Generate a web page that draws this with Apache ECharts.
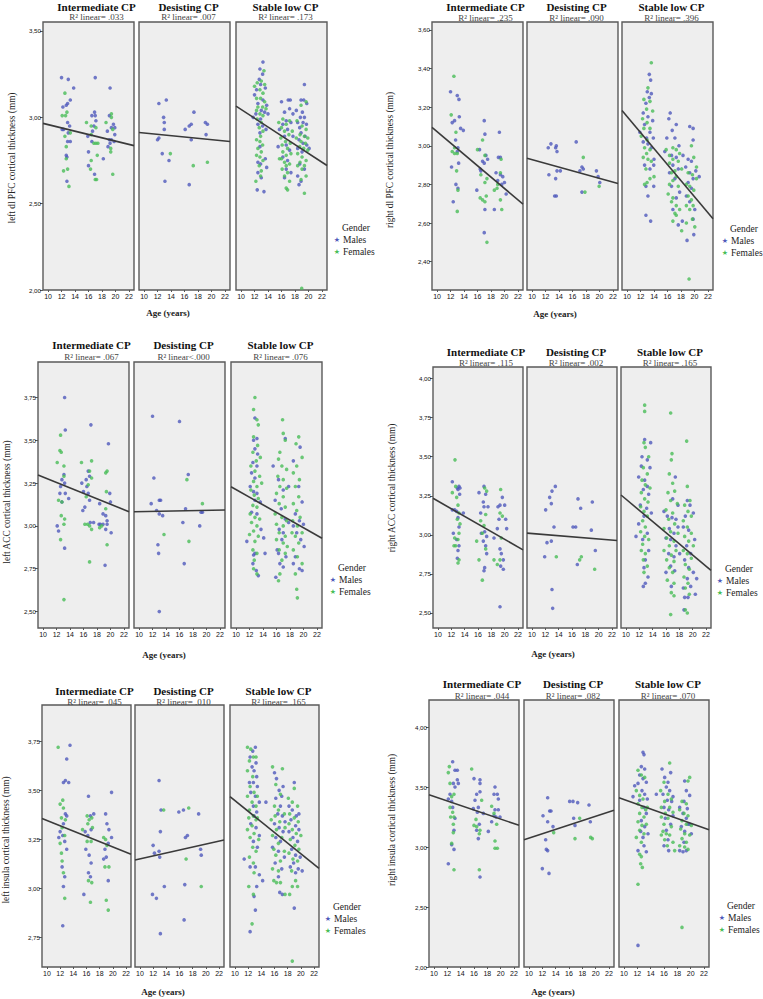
<!DOCTYPE html>
<html>
<head>
<meta charset="utf-8">
<script src="https://cdn.jsdelivr.net/npm/echarts@6/dist/echarts.min.js"></script>
<style>
  html, body { margin: 0; padding: 0; background: #fff; }
  #chart { width: 763px; height: 999px; }
</style>
</head>
<body>
<div id="chart"></div>
<script>
  // ---- shared labels / ticks ----
  const groupNames = ['Intermediate CP', 'Desisting CP', 'Stable low CP'];
  const ageTicks = [10, 12, 14, 16, 18, 20, 22];
  const ageRange = [9.25, 22.75];

  const yTitles = [
    'left dl PFC cortical thickness (mm)',
    'right dl PFC cortical thickness (mm)',
    'left ACC cortical thickness (mm)',
    'right ACC cortical thickness (mm)',
    'left insula cortical thickness (mm)',
    'right insula cortical thickness (mm)'
  ];
  const yTicks = [
    [2.0, 2.5, 3.0, 3.5],
    [2.4, 2.6, 2.8, 3.0, 3.2, 3.4, 3.6],
    [2.5, 2.75, 3.0, 3.25, 3.5, 3.75],
    [2.5, 2.75, 3.0, 3.25, 3.5, 3.75, 4.0],
    [2.75, 3.0, 3.25, 3.5, 3.75],
    [2.0, 2.5, 3.0, 3.5, 4.0]
  ];
  const r2Labels = [
    ['.033', '.007', '.173'],
    ['.235', '.090', '.396'],
    ['.067', '<.000', '.076'],
    ['.115', '.002', '.165'],
    ['.045', '.010', '.165'],
    ['.044', '.082', '.070']
  ];

  // fitted line values at left / right edge of each group panel
  const lPfcFit = [[2.965, 2.836], [2.912, 2.860], [3.065, 2.721]];
  const rPfcFit = [[3.095, 2.698], [2.935, 2.805], [3.183, 2.622]];
  const lAccFit = [[3.297, 3.083], [3.083, 3.093], [3.229, 2.928]];
  const rAccFit = [[3.234, 2.904], [3.011, 2.964], [3.255, 2.772]];
  const lInsFit = [[3.357, 3.175], [3.145, 3.247], [3.468, 3.102]];
  const rInsFit = [[3.436, 3.181], [3.061, 3.306], [3.411, 3.144]];

  // ---- left dl PFC ----
  const lPfcIntM = [[12.0,3.23],[13.0,3.22],[13.8,3.17],[12.2,3.06],[13.3,3.10],[12.9,3.08],[12.7,3.07],[12.9,2.97],[13.2,2.95],[12.1,2.93],[13.0,2.91],[12.3,2.93],[12.9,2.86],[13.3,2.86],[12.7,2.78],[12.8,2.77],[12.8,2.63],[17.0,3.23],[16.9,3.03],[16.5,3.01],[17.0,3.01],[16.8,2.95],[15.9,2.89],[16.5,2.86],[16.0,2.80],[16.0,2.72],[16.9,2.67],[17.1,2.98],[16.6,2.92],[19.2,3.17],[19.1,3.01],[19.7,2.96],[19.4,2.94],[18.8,2.92],[19.9,2.90],[19.1,2.87],[19.4,2.87],[19.8,2.86],[19.2,2.85],[18.9,2.83],[18.2,2.76],[19.9,2.94]];
  const lPfcIntF = [[12.5,3.14],[12.1,3.01],[12.6,3.01],[12.8,3.03],[12.5,2.89],[12.7,2.83],[13.3,2.91],[12.7,2.76],[12.9,2.70],[12.3,2.69],[13.1,2.60],[15.7,2.97],[16.4,2.95],[17.1,2.94],[16.4,2.90],[16.8,2.85],[17.1,2.85],[17.4,2.85],[17.3,2.78],[16.4,2.75],[16.3,2.70],[17.0,2.64],[17.2,2.64],[19.4,3.02],[19.4,3.00],[18.6,2.97],[19.6,2.93],[19.3,2.82],[19.3,2.80],[19.6,2.67]];
  const lPfcDesM = [[12.2,3.08],[13.3,3.10],[12.9,3.00],[13.0,2.97],[13.0,2.93],[12.2,2.88],[12.0,2.87],[12.7,2.79],[13.7,2.75],[13.1,2.63],[17.4,3.03],[16.7,2.95],[17.0,2.96],[16.1,2.93],[17.0,2.87],[16.7,2.61],[19.1,2.97],[19.4,2.96],[19.2,2.90]];
  const lPfcDesF = [[13.9,2.79],[17.3,2.72],[19.4,2.74]];
  const lPfcStabM = [[13.25,3.32],[12.8,3.28],[13.2,3.25],[12.7,3.22],[12.9,3.19],[12.3,3.16],[13.6,3.17],[12.0,3.13],[13.25,3.10],[12.5,3.08],[13.8,3.07],[13.0,3.04],[12.2,3.02],[11.8,3.00],[13.5,3.03],[14.0,3.02],[12.9,2.99],[12.5,2.96],[13.7,2.93],[12.8,2.91],[13.2,2.95],[13.6,2.76],[12.9,2.73],[12.5,2.74],[13.8,2.71],[12.5,2.68],[13.0,2.65],[12.4,2.58],[13.4,2.57],[12.8,2.83],[16.0,3.09],[17.0,3.10],[17.3,3.10],[15.7,2.93],[16.45,3.03],[17.2,3.05],[17.7,3.02],[16.7,2.98],[16.2,2.96],[17.4,2.97],[16.9,2.93],[16.45,2.89],[17.7,2.89],[16.7,2.84],[15.5,2.83],[17.2,2.81],[16.2,2.77],[16.9,2.75],[16.7,2.70],[17.4,2.68],[16.45,2.65],[19.4,3.19],[18.9,3.10],[19.3,3.10],[19.75,3.08],[18.2,3.04],[19.1,3.03],[18.8,3.00],[19.4,3.00],[18.4,2.97],[19.2,2.97],[19.7,2.96],[18.7,2.94],[18.9,2.91],[19.5,2.89],[18.6,2.87],[19.2,2.85],[19.75,2.84],[18.4,2.82],[19.05,2.80],[20.1,2.82],[18.7,2.73],[19.4,2.70],[18.4,2.66],[18.9,2.63],[18.6,2.61]];
  const lPfcStabF = [[13.4,3.27],[13.0,3.21],[12.4,3.20],[13.5,3.19],[12.0,3.18],[12.8,3.16],[13.25,3.14],[12.3,3.11],[12.9,3.11],[13.5,3.09],[12.5,3.06],[13.2,3.06],[13.7,3.05],[12.3,3.04],[12.8,3.02],[13.25,3.01],[12.4,2.99],[13.0,2.97],[12.7,2.94],[13.25,2.92],[12.9,2.89],[12.3,2.87],[12.8,2.86],[13.2,2.84],[12.5,2.82],[13.0,2.80],[12.3,2.78],[12.8,2.77],[13.25,2.75],[12.7,2.72],[13.0,2.69],[12.9,2.66],[12.2,2.63],[15.6,2.97],[16.2,2.99],[16.7,2.96],[17.2,2.98],[16.0,2.94],[16.45,2.92],[17.1,2.90],[15.9,2.88],[16.6,2.86],[17.3,2.85],[16.1,2.84],[16.9,2.82],[16.2,2.80],[16.7,2.78],[17.4,2.79],[16.0,2.76],[16.45,2.74],[17.2,2.73],[16.7,2.72],[16.1,2.70],[16.9,2.68],[16.45,2.66],[17.2,2.63],[16.7,2.59],[16.9,2.58],[15.7,2.76],[17.6,2.92],[19.65,3.09],[18.9,3.07],[18.3,2.98],[19.05,2.95],[19.65,2.93],[18.75,2.90],[19.4,2.89],[19.9,2.88],[18.2,2.88],[18.9,2.86],[19.55,2.85],[18.7,2.83],[19.3,2.82],[19.9,2.81],[18.4,2.79],[19.05,2.77],[19.65,2.75],[18.75,2.74],[19.4,2.72],[18.4,2.72],[19.05,2.70],[19.65,2.66],[18.9,2.64],[19.4,2.56],[19.0,2.01]];

  // ---- right dl PFC ----
  const rPfcIntM = [[12.0,3.28],[13.0,3.26],[13.25,3.24],[12.6,3.13],[12.25,3.12],[13.3,3.15],[13.5,3.09],[13.9,3.08],[12.75,3.03],[13.1,2.99],[13.0,2.97],[13.2,2.91],[12.15,2.89],[12.8,2.80],[13.1,2.78],[12.4,2.71],[17.0,3.13],[17.1,3.06],[16.3,2.98],[17.25,2.95],[17.5,2.93],[16.75,2.92],[17.0,2.91],[16.4,2.88],[16.5,2.87],[15.9,2.77],[17.1,2.67],[17.0,2.55],[18.5,2.67],[19.25,3.07],[19.1,2.94],[19.4,2.94],[19.75,2.84],[19.4,2.85],[19.0,2.82],[20.0,2.81],[19.6,2.80],[18.75,2.86],[20.25,2.75]];
  const rPfcIntF = [[12.1,3.16],[12.5,3.36],[12.25,2.97],[12.6,2.96],[12.8,3.07],[13.0,2.96],[12.9,2.87],[13.1,2.77],[13.0,2.66],[12.6,2.99],[16.0,2.98],[16.5,2.85],[16.75,3.03],[17.1,2.95],[16.4,2.73],[16.75,2.72],[17.1,2.71],[17.4,2.83],[17.1,2.81],[17.4,2.50],[17.3,2.74],[18.5,2.77],[18.9,2.78],[19.5,2.93],[19.4,2.86],[19.4,2.72],[19.6,2.67],[19.0,2.80]];
  const rPfcDesM = [[12.8,3.01],[12.4,2.99],[13.6,3.00],[13.5,2.99],[13.7,2.97],[12.5,2.85],[13.5,2.83],[13.7,2.87],[14.2,2.87],[13.35,2.74],[13.6,2.74],[16.55,3.02],[17.4,2.89],[17.1,2.87],[17.6,2.88],[19.55,2.87],[19.8,2.84],[20.05,2.81],[17.4,2.76]];
  const rPfcDesF = [[17.6,2.94],[17.85,2.76],[19.95,2.79]];
  const rPfcStabM = [[13.3,3.37],[13.5,3.34],[13.0,3.28],[13.3,3.25],[13.6,3.27],[12.8,3.22],[12.4,3.17],[13.1,3.15],[13.8,3.13],[12.6,3.11],[11.9,3.07],[13.4,3.07],[12.9,3.04],[13.9,3.04],[12.4,3.02],[13.1,3.01],[13.6,2.99],[14.0,2.93],[12.6,2.90],[13.4,2.88],[13.96,2.90],[12.8,2.79],[13.96,2.79],[13.1,2.74],[12.8,2.64],[13.5,2.61],[16.4,3.17],[16.2,3.14],[17.3,3.11],[16.7,3.08],[15.9,3.04],[17.1,3.04],[17.7,3.00],[15.6,2.97],[16.6,2.95],[17.3,2.94],[18.3,2.95],[16.8,2.90],[17.6,2.88],[16.3,2.86],[17.1,2.83],[16.6,2.79],[17.8,2.76],[17.3,2.73],[16.8,2.67],[17.6,2.59],[18.2,2.61],[19.3,3.10],[19.8,3.09],[19.8,3.03],[19.06,2.93],[19.55,2.92],[18.7,2.89],[20.2,2.87],[20.7,2.84],[19.3,2.86],[19.8,2.83],[19.06,2.81],[19.55,2.78],[18.8,2.74],[19.3,2.71],[20.05,2.67],[19.8,2.62],[18.9,2.51],[19.9,2.54]];
  const rPfcStabF = [[13.6,3.43],[13.1,3.30],[12.5,3.24],[13.4,3.23],[13.8,3.18],[12.9,3.19],[12.3,3.14],[12.97,3.12],[12.5,3.09],[13.4,3.09],[12.1,3.05],[12.97,3.03],[12.6,2.99],[13.4,2.98],[12.9,2.96],[12.4,2.94],[13.1,2.93],[13.6,2.92],[12.8,2.88],[14.0,2.84],[12.97,2.81],[12.6,2.80],[13.4,2.83],[15.8,2.98],[16.8,2.99],[17.3,2.98],[16.3,2.95],[17.8,2.96],[16.8,2.93],[17.6,2.92],[16.3,2.91],[17.1,2.87],[16.6,2.86],[18.1,2.88],[17.3,2.84],[16.8,2.82],[16.3,2.80],[17.6,2.79],[16.1,2.75],[16.8,2.73],[17.3,2.69],[16.6,2.71],[17.1,2.65],[17.8,2.67],[16.8,2.61],[18.1,2.56],[17.3,2.64],[19.55,3.00],[19.9,2.94],[20.3,2.89],[19.06,2.86],[19.7,2.85],[20.3,2.83],[18.8,2.80],[19.3,2.79],[19.9,2.77],[19.06,2.74],[19.55,2.72],[18.8,2.69],[19.8,2.69],[19.3,2.67],[19.7,2.62],[18.8,2.60],[20.05,2.58],[19.2,2.31]];

  // ---- left ACC ----
  const lAccIntM = [[13.2,3.75],[13.3,3.56],[17.1,3.59],[19.7,3.48],[13.1,3.30],[12.8,3.27],[13.2,3.25],[12.6,3.23],[13.3,3.19],[13.8,3.16],[12.5,3.19],[12.8,3.14],[15.75,3.25],[16.4,3.27],[16.7,3.32],[16.9,3.29],[16.5,3.23],[16.0,3.20],[16.7,3.19],[16.9,3.15],[16.2,3.11],[15.9,3.09],[17.0,3.02],[17.5,3.02],[12.1,3.00],[12.3,2.97],[13.2,2.87],[18.4,3.13],[18.9,3.07],[19.3,3.06],[19.5,3.03],[19.9,3.19],[20.0,3.14],[18.5,3.01],[18.9,3.01],[19.3,2.98],[19.5,3.01],[20.1,2.96],[19.2,2.77],[18.3,3.01]];
  const lAccIntF = [[12.6,3.53],[12.5,3.44],[12.7,3.43],[12.1,3.37],[13.1,3.35],[13.1,3.29],[12.3,3.15],[12.8,3.14],[12.7,3.06],[13.2,3.04],[13.1,3.01],[12.6,2.92],[13.1,2.57],[15.7,3.37],[17.2,3.38],[16.9,3.32],[17.2,3.28],[16.7,3.24],[16.4,3.17],[16.2,3.01],[16.6,3.01],[16.9,3.00],[17.2,2.98],[16.9,2.79],[18.7,3.00],[19.3,3.31],[19.5,3.32],[19.4,3.20],[19.3,3.10],[19.5,2.89],[18.4,2.99]];
  const lAccDesM = [[12.0,3.64],[12.2,3.28],[11.8,3.13],[13.0,3.15],[13.2,3.15],[12.6,3.09],[13.0,3.07],[13.5,3.06],[12.8,2.89],[12.9,2.84],[13.0,2.50],[16.0,3.61],[16.5,3.02],[16.9,3.10],[16.7,2.78],[17.3,3.30],[19.0,3.00],[19.2,3.08],[19.4,3.08]];
  const lAccDesF = [[13.7,2.95],[17.1,3.27],[17.4,2.91],[19.4,3.13]];
  const lAccStabM = [[12.8,3.63],[12.6,3.50],[13.1,3.51],[12.8,3.45],[13.2,3.42],[12.5,3.37],[13.1,3.35],[12.3,3.31],[12.8,3.28],[12.1,3.23],[12.6,3.20],[13.1,3.19],[13.6,3.14],[12.8,3.15],[12.3,3.08],[13.1,3.07],[11.6,2.91],[13.7,2.98],[14.1,2.93],[12.8,2.84],[12.5,2.78],[13.0,2.74],[13.3,2.71],[12.6,2.83],[14.3,2.84],[15.5,3.35],[17.3,3.51],[17.8,3.23],[16.3,3.27],[17.0,3.21],[15.8,3.15],[16.7,3.10],[17.3,3.04],[17.8,3.02],[16.4,2.98],[17.0,2.96],[16.8,2.92],[16.1,2.86],[17.4,2.82],[16.5,2.78],[15.9,2.70],[17.0,2.76],[16.3,2.84],[19.5,3.46],[18.5,3.38],[19.3,3.23],[19.8,3.14],[18.8,3.07],[19.4,3.03],[20.0,3.01],[18.5,3.00],[19.0,2.96],[19.6,2.92],[20.1,2.88],[18.8,2.82],[19.4,2.75],[18.5,2.78],[19.8,2.74]];
  const lAccStabF = [[12.8,3.75],[12.6,3.68],[13.1,3.62],[13.3,3.59],[12.6,3.52],[13.2,3.47],[12.5,3.43],[13.0,3.38],[13.6,3.40],[12.2,3.35],[12.8,3.32],[13.5,3.29],[12.6,3.26],[13.1,3.23],[13.8,3.25],[12.2,3.21],[12.7,3.18],[13.3,3.16],[12.5,3.12],[13.1,3.11],[12.1,3.07],[12.8,3.05],[13.5,3.04],[12.3,3.02],[13.1,3.00],[12.6,2.97],[12.0,2.95],[13.3,2.94],[12.8,2.91],[12.5,2.86],[13.1,2.84],[12.7,2.80],[12.6,2.75],[13.1,2.72],[16.9,3.62],[17.0,3.54],[17.3,3.50],[16.5,3.43],[16.3,3.39],[16.8,3.35],[17.5,3.33],[16.2,3.29],[17.0,3.27],[16.5,3.23],[17.5,3.22],[16.0,3.19],[17.0,3.17],[16.4,3.13],[17.3,3.11],[15.8,3.07],[16.8,3.05],[17.5,3.03],[16.0,3.01],[17.0,3.00],[16.4,2.96],[17.3,2.94],[16.0,2.92],[17.0,2.90],[17.6,2.88],[16.4,2.86],[17.3,2.84],[16.8,2.80],[16.5,2.72],[16.3,2.68],[19.3,3.52],[18.9,3.48],[19.8,3.40],[19.0,3.35],[18.5,3.31],[19.4,3.27],[18.8,3.23],[19.3,3.17],[18.5,3.13],[19.0,3.09],[19.5,3.05],[18.4,3.03],[19.1,3.00],[19.8,2.96],[18.8,2.94],[19.3,2.90],[18.5,2.86],[19.1,2.82],[19.8,2.78],[18.8,2.72],[19.0,2.63],[19.1,2.58],[18.3,2.96]];

  // ---- right ACC ----
  const rAccIntM = [[12.15,3.34],[12.9,3.30],[13.0,3.29],[13.15,3.31],[13.3,3.30],[13.25,3.26],[12.15,3.16],[12.5,3.16],[12.8,3.15],[13.0,3.11],[13.15,3.05],[13.8,3.14],[12.3,3.01],[12.8,2.97],[13.0,2.90],[13.15,2.93],[12.9,2.85],[16.15,3.27],[16.9,3.31],[17.15,3.26],[16.8,3.21],[16.4,3.14],[16.9,3.18],[17.5,3.18],[16.5,3.01],[17.0,3.02],[17.3,2.99],[16.8,2.96],[17.15,2.93],[17.3,2.88],[17.0,2.79],[16.9,2.77],[18.4,2.98],[19.0,3.18],[19.3,3.19],[19.65,3.24],[20.0,3.19],[19.15,3.10],[18.9,3.04],[20.15,3.10],[19.3,2.91],[19.5,2.88],[19.8,2.84],[19.4,2.80],[19.8,2.78],[19.3,2.54],[20.3,3.04]];
  const rAccIntF = [[12.55,3.48],[12.15,3.27],[12.65,3.31],[12.8,3.24],[13.0,3.19],[13.15,3.14],[12.9,3.10],[13.3,3.07],[13.15,3.01],[12.5,2.98],[13.0,2.97],[12.4,2.93],[12.65,2.93],[13.15,2.84],[13.0,2.82],[15.8,2.96],[16.15,2.84],[17.0,3.30],[17.3,3.28],[16.4,3.09],[16.9,3.06],[17.15,3.13],[16.65,3.01],[17.15,2.91],[16.65,2.71],[18.4,2.84],[19.4,3.29],[19.3,3.14],[19.65,3.12],[19.5,2.98],[19.3,2.84],[18.9,2.81]];
  const rAccDesM = [[12.05,3.16],[12.65,3.24],[13.0,3.28],[13.5,3.31],[12.9,3.20],[13.3,3.05],[12.25,2.95],[12.9,2.96],[11.9,2.86],[13.0,2.65],[13.1,2.53],[16.15,3.05],[16.55,3.05],[16.9,3.23],[17.3,3.17],[16.8,2.81],[19.05,3.21],[18.9,3.03],[19.5,2.90]];
  const rAccDesF = [[13.65,2.86],[17.15,2.84],[17.4,2.86],[19.4,2.78]];
  const rAccStabM = [[12.8,3.61],[13.7,3.59],[12.4,3.50],[13.2,3.48],[13.6,3.43],[12.3,3.44],[11.9,3.37],[12.8,3.35],[13.2,3.31],[12.6,3.29],[13.4,3.26],[12.15,3.19],[13.1,3.17],[13.8,3.14],[12.7,3.12],[11.9,3.07],[11.5,2.99],[13.2,3.01],[12.5,2.97],[13.4,2.90],[12.9,2.84],[12.7,2.79],[13.3,2.73],[12.9,2.69],[12.6,2.67],[17.4,3.37],[16.2,3.12],[15.7,3.15],[16.9,3.11],[17.5,3.10],[16.5,3.04],[17.2,3.01],[17.8,3.05],[16.0,2.98],[16.7,2.97],[17.5,2.93],[16.4,2.88],[17.2,2.86],[18.05,2.88],[16.7,2.80],[16.0,2.76],[17.3,2.77],[16.8,2.67],[17.8,3.19],[17.0,3.23],[18.6,2.66],[19.2,3.22],[19.6,3.19],[18.9,3.12],[20.1,3.14],[18.6,3.05],[19.4,3.03],[20.3,2.97],[19.1,2.93],[19.7,2.88],[18.8,2.84],[19.4,2.79],[20.1,2.76],[19.2,2.72],[19.7,2.67],[18.8,2.60],[19.3,2.60],[20.4,2.62],[18.7,2.52],[20.6,2.72]];
  const rAccStabF = [[12.8,3.83],[12.8,3.79],[12.7,3.59],[12.9,3.56],[13.4,3.50],[12.6,3.43],[13.2,3.39],[12.4,3.35],[12.9,3.32],[13.6,3.30],[12.3,3.27],[12.8,3.23],[13.3,3.21],[12.2,3.18],[12.7,3.15],[13.2,3.12],[12.5,3.09],[12.9,3.05],[12.2,3.02],[12.8,2.99],[13.4,2.97],[12.5,2.94],[12.9,2.88],[12.6,2.84],[13.2,2.80],[12.7,2.76],[12.3,2.90],[16.8,3.48],[16.5,3.39],[16.9,3.52],[16.7,3.78],[17.0,3.33],[16.3,3.27],[17.3,3.28],[16.7,3.22],[17.7,3.20],[16.0,3.16],[17.0,3.14],[16.4,3.10],[17.3,3.07],[15.7,3.04],[16.7,3.02],[17.8,3.01],[16.1,2.98],[17.2,2.96],[16.5,2.93],[15.7,2.90],[17.5,2.90],[16.8,2.87],[16.1,2.84],[17.2,2.83],[16.5,2.79],[17.0,2.76],[16.2,2.71],[17.2,2.69],[16.8,2.63],[16.7,2.49],[17.2,2.61],[19.1,3.60],[19.2,3.31],[19.6,3.22],[18.8,3.19],[19.3,3.15],[19.8,3.12],[18.6,3.09],[19.2,3.05],[19.8,3.01],[18.8,2.99],[19.4,2.96],[20.1,2.93],[18.6,2.90],[19.2,2.88],[19.8,2.85],[18.9,2.81],[19.5,2.78],[18.7,2.73],[19.3,2.69],[18.9,2.66],[19.5,2.62],[19.2,2.50],[18.9,2.52]];

  // ---- left insula ----
  const lInsIntM = [[13.0,3.66],[13.5,3.73],[12.5,3.54],[12.8,3.55],[13.3,3.54],[12.8,3.38],[13.0,3.37],[12.5,3.33],[12.0,3.29],[12.4,3.27],[12.7,3.24],[13.0,3.20],[11.8,3.26],[12.3,3.11],[12.7,3.06],[12.4,2.81],[12.5,3.01],[16.3,3.47],[15.8,3.29],[16.6,3.37],[17.1,3.38],[16.7,3.30],[16.2,3.27],[15.9,3.20],[16.4,3.17],[16.7,3.13],[16.3,3.08],[16.6,3.06],[15.6,2.97],[18.9,3.38],[19.1,3.33],[19.4,3.30],[19.8,3.49],[19.3,3.23],[18.8,3.20],[19.8,3.26],[19.0,3.16],[18.6,3.15],[19.3,3.04]];
  const lInsIntF = [[11.7,3.72],[12.4,3.45],[12.0,3.43],[12.5,3.41],[12.2,3.36],[12.8,3.35],[12.3,3.31],[12.7,3.27],[12.0,3.23],[12.2,3.18],[12.3,3.14],[12.5,3.08],[12.7,2.95],[15.4,3.30],[16.1,3.37],[16.4,3.35],[16.8,3.36],[16.2,3.33],[16.9,3.31],[16.1,3.24],[16.7,3.24],[16.3,3.04],[16.8,3.03],[16.6,2.93],[18.9,3.25],[19.1,3.22],[19.4,3.11],[18.8,3.11],[19.0,2.94],[19.3,2.89],[18.6,3.26]];
  const lInsDesM = [[12.9,3.55],[12.0,3.22],[12.2,3.18],[12.9,3.19],[13.0,3.16],[13.1,3.29],[13.2,3.40],[13.7,3.01],[11.9,2.97],[12.5,2.95],[13.1,2.77],[15.9,3.39],[16.6,3.40],[17.2,3.27],[16.9,3.26],[16.8,3.02],[16.7,2.84],[18.9,3.38],[19.2,3.20],[19.3,3.17]];
  const lInsDesF = [[13.6,3.40],[17.4,3.41],[17.0,3.15],[19.3,3.01]];
  const lInsStabM = [[13.1,3.72],[12.7,3.70],[12.3,3.67],[13.2,3.64],[12.6,3.62],[12.9,3.60],[13.3,3.57],[12.2,3.54],[12.8,3.54],[13.4,3.52],[12.4,3.49],[13.1,3.47],[13.7,3.44],[12.8,3.42],[13.3,3.39],[12.9,3.37],[12.4,3.33],[13.2,3.31],[13.7,3.27],[12.8,3.24],[13.4,3.21],[11.4,3.15],[12.3,3.11],[13.1,3.11],[13.7,3.07],[14.2,3.04],[12.9,2.96],[13.1,2.89],[12.3,2.78],[13.3,3.01],[14.7,3.44],[16.0,3.59],[16.3,3.56],[16.7,3.50],[17.3,3.52],[17.1,3.47],[16.2,3.46],[16.9,3.42],[16.5,3.38],[17.2,3.37],[17.6,3.34],[16.0,3.33],[16.7,3.31],[17.3,3.29],[16.2,3.26],[16.9,3.24],[15.7,3.21],[16.6,3.19],[17.5,3.16],[16.1,3.13],[17.1,3.10],[16.6,3.06],[17.2,2.97],[16.8,2.98],[19.0,3.54],[18.2,3.42],[18.7,3.40],[19.3,3.37],[19.7,3.38],[18.5,3.35],[19.2,3.32],[19.7,3.30],[18.2,3.29],[18.8,3.26],[19.5,3.24],[18.6,3.20],[19.2,3.17],[19.9,3.16],[18.9,3.13],[19.6,3.10],[18.4,3.11],[19.2,3.08],[19.0,2.90],[20.2,3.09]];
  const lInsStabF = [[11.9,3.72],[12.4,3.71],[12.8,3.67],[12.2,3.65],[13.2,3.67],[11.9,3.60],[12.7,3.57],[12.3,3.52],[12.9,3.49],[13.4,3.47],[11.9,3.47],[12.6,3.44],[13.2,3.42],[12.2,3.40],[12.8,3.37],[12.1,3.36],[13.4,3.36],[12.6,3.32],[13.2,3.35],[11.9,3.30],[12.9,3.28],[12.3,3.26],[13.6,3.25],[12.7,3.21],[13.2,3.19],[12.2,3.16],[12.8,3.13],[12.9,3.08],[12.1,3.01],[12.8,2.97],[12.6,2.82],[15.7,3.62],[17.2,3.61],[16.2,3.53],[16.9,3.48],[16.0,3.42],[16.6,3.40],[17.5,3.38],[16.1,3.37],[15.5,3.35],[16.8,3.34],[17.6,3.31],[16.3,3.30],[15.7,3.27],[17.1,3.26],[16.6,3.23],[15.9,3.20],[17.5,3.19],[16.2,3.17],[16.9,3.14],[15.7,3.10],[16.6,3.09],[15.9,3.04],[16.9,3.03],[16.3,3.03],[17.6,2.97],[19.0,3.51],[18.1,3.46],[18.7,3.44],[19.5,3.42],[18.3,3.38],[19.0,3.36],[19.6,3.34],[18.2,3.33],[18.7,3.30],[19.3,3.28],[20.0,3.27],[18.4,3.25],[19.1,3.22],[19.7,3.20],[18.2,3.18],[18.8,3.15],[19.5,3.14],[18.6,3.09],[19.2,3.04],[18.7,3.01],[19.5,3.01],[18.3,2.97],[18.7,2.63]];

  // ---- right insula ----
  const rInsIntM = [[13.15,3.64],[13.5,3.56],[12.8,3.71],[12.9,3.53],[13.15,3.50],[12.4,3.44],[12.15,3.40],[12.65,3.38],[12.8,3.33],[13.15,3.24],[13.0,3.14],[12.65,3.02],[13.0,2.98],[12.15,2.86],[13.65,3.53],[13.5,3.64],[16.0,3.57],[16.9,3.56],[16.9,3.53],[16.4,3.44],[16.15,3.39],[16.9,3.46],[16.65,3.33],[15.9,3.32],[16.5,3.29],[16.8,3.19],[16.4,3.14],[16.65,3.07],[16.9,2.75],[17.4,3.28],[19.0,3.44],[19.15,3.50],[19.5,3.44],[19.65,3.40],[19.15,3.31],[19.0,3.26],[19.3,3.25],[19.65,3.31],[18.65,3.21],[18.15,3.13],[19.9,3.25]];
  const rInsIntF = [[12.15,3.62],[12.4,3.53],[12.65,3.42],[12.4,3.33],[12.8,3.29],[12.5,3.25],[12.9,3.19],[12.3,3.67],[13.0,3.44],[13.0,3.25],[12.9,3.12],[12.65,3.03],[13.0,2.81],[15.65,3.65],[16.3,3.23],[16.4,3.17],[16.9,3.14],[16.0,3.18],[16.8,3.11],[16.8,2.81],[17.15,3.39],[18.65,3.34],[19.4,3.19],[19.15,3.05],[19.15,2.99],[19.5,2.99],[19.0,3.28]];
  const rInsDesM = [[12.8,3.41],[12.1,3.26],[12.8,3.21],[13.1,3.30],[13.3,3.30],[13.6,3.17],[12.5,3.06],[12.6,2.98],[12.8,2.97],[12.0,2.82],[13.0,2.78],[16.1,3.38],[16.6,3.38],[17.3,3.37],[16.7,3.24],[16.9,3.18],[19.0,3.35],[19.2,3.21]];
  const rInsDesF = [[13.7,3.12],[17.6,3.24],[16.9,3.07],[19.25,3.08],[19.5,3.07]];
  const rInsStabM = [[12.85,3.79],[13.0,3.77],[12.6,3.67],[13.1,3.65],[12.35,3.60],[12.85,3.57],[13.35,3.54],[12.1,3.53],[12.7,3.47],[13.1,3.44],[11.6,3.51],[13.5,3.40],[12.35,3.39],[13.0,3.33],[13.35,3.28],[12.6,3.22],[13.1,3.17],[12.5,3.13],[13.6,3.11],[12.85,3.08],[12.1,2.97],[13.0,3.01],[13.35,2.96],[12.1,2.18],[11.35,3.42],[15.7,3.65],[16.1,3.58],[16.6,3.54],[17.0,3.62],[16.35,3.50],[16.85,3.47],[15.85,3.44],[17.35,3.42],[16.5,3.39],[17.15,3.38],[16.0,3.33],[16.7,3.31],[17.35,3.26],[16.2,3.24],[17.0,3.19],[16.35,3.14],[16.6,3.06],[16.0,3.01],[16.7,2.97],[14.85,3.44],[19.1,3.55],[19.35,3.47],[19.85,3.43],[19.0,3.38],[18.35,3.33],[19.5,3.32],[18.85,3.28],[19.35,3.24],[19.85,3.19],[18.6,3.17],[19.1,3.13],[20.1,3.11],[19.0,3.04],[18.35,2.97],[19.35,2.97],[18.85,2.96],[19.6,3.19]];
  const rInsStabF = [[12.1,3.64],[12.6,3.60],[13.1,3.58],[11.85,3.47],[12.35,3.43],[12.85,3.40],[12.1,3.36],[12.7,3.33],[13.25,3.31],[12.35,3.28],[13.0,3.25],[12.1,3.21],[12.7,3.18],[13.35,3.19],[12.35,3.14],[13.0,3.11],[11.85,3.08],[12.6,3.04],[12.35,2.94],[12.6,2.92],[12.5,2.86],[12.75,2.83],[12.1,2.69],[13.5,3.33],[16.85,3.70],[16.0,3.54],[15.5,3.47],[16.6,3.44],[17.1,3.40],[16.1,3.38],[15.6,3.33],[16.85,3.33],[16.2,3.28],[17.35,3.29],[15.6,3.25],[16.6,3.24],[16.0,3.19],[17.1,3.17],[16.35,3.11],[15.6,3.10],[16.85,3.10],[16.1,3.06],[17.35,3.04],[16.5,3.01],[15.85,3.13],[17.6,2.97],[19.85,3.58],[19.6,3.55],[18.7,3.38],[19.35,3.36],[18.35,3.31],[19.0,3.28],[19.6,3.26],[18.7,3.22],[19.35,3.19],[20.1,3.18],[18.5,3.15],[19.1,3.11],[19.85,3.10],[18.7,3.07],[19.35,3.04],[18.35,3.01],[19.1,3.00],[19.6,2.98],[18.7,2.33]];

  const malesByPanel = [
    [lPfcIntM, lPfcDesM, lPfcStabM], [rPfcIntM, rPfcDesM, rPfcStabM],
    [lAccIntM, lAccDesM, lAccStabM], [rAccIntM, rAccDesM, rAccStabM],
    [lInsIntM, lInsDesM, lInsStabM], [rInsIntM, rInsDesM, rInsStabM]
  ];
  const femalesByPanel = [
    [lPfcIntF, lPfcDesF, lPfcStabF], [rPfcIntF, rPfcDesF, rPfcStabF],
    [lAccIntF, lAccDesF, lAccStabF], [rAccIntF, rAccDesF, rAccStabF],
    [lInsIntF, lInsDesF, lInsStabF], [rInsIntF, rInsDesF, rInsStabF]
  ];
  const fitsByPanel = [lPfcFit, rPfcFit, lAccFit, rAccFit, lInsFit, rInsFit];

  // ---- layout (pixels) ----
  const layout = [
    { lefts: [43, 139, 236], w: 91, top: 22, h: 268, yMin: 2.0, yMax: 3.552, titleY: 7, r2Y: 17, yLab: [12, 158], age: [168, 313], leg: [342, 228] },
    { lefts: [432, 527, 622], w: 91, top: 22, h: 268, yMin: 2.253, yMax: 3.641, titleY: 7, r2Y: 18, yLab: [390, 160], age: [555, 314], leg: [730, 229] },
    { lefts: [38, 134, 231], w: 91, top: 362, h: 266, yMin: 2.404, yMax: 3.957, titleY: 345, r2Y: 357, yLab: [7, 502], age: [164, 655], leg: [338, 568] },
    { lefts: [433, 527, 621], w: 90, top: 367, h: 261, yMin: 2.404, yMax: 4.074, titleY: 352, r2Y: 363, yLab: [392, 488], age: [553, 654], leg: [725, 569] },
    { lefts: [42, 135, 230], w: 89, top: 705, h: 262, yMin: 2.60, yMax: 3.935, titleY: 691, r2Y: 702, yLab: [6, 840], age: [163, 992], leg: [333, 907] },
    { lefts: [429, 524, 619], w: 90, top: 700, h: 267, yMin: 2.0, yMax: 4.225, titleY: 684, r2Y: 696, yLab: [392, 820], age: [553, 992], leg: [727, 906] }
  ];
  const titleShift = [8, 4, 4];

  const maleColor = '#4f59bb';
  const femaleColor = '#48bd58';
  const serif = '"Liberation Serif", "DejaVu Serif", serif';
  const sans = '"Liberation Sans", Arial, sans-serif';

  const grids = [], xAxes = [], yAxes = [], series = [], graphics = [];

  layout.forEach((p, pi) => {
    p.lefts.forEach((left, g) => {
      const idx = pi * 3 + g;
      grids.push({
        left: left, top: p.top, width: p.w, height: p.h,
        show: true, backgroundColor: '#eeeeee', borderColor: '#5a5a5a', borderWidth: 1.4
      });
      xAxes.push({
        type: 'value', gridIndex: idx, min: ageRange[0], max: ageRange[1],
        axisLine: { show: false },
        axisTick: { show: true, length: 2, customValues: ageTicks, lineStyle: { color: '#555' } },
        axisLabel: { customValues: ageTicks, fontSize: 7, margin: 3, color: '#111', fontFamily: sans },
        splitLine: { show: false }
      });
      yAxes.push({
        type: 'value', gridIndex: idx, min: p.yMin, max: p.yMax,
        axisLine: { show: false },
        axisTick: { show: g === 0, length: 3, customValues: yTicks[pi], lineStyle: { color: '#555' } },
        axisLabel: {
          show: g === 0, customValues: yTicks[pi], fontSize: 6.2, margin: 2, color: '#111', fontFamily: sans,
          formatter: v => v.toFixed(2).replace('.', ',')
        },
        splitLine: { show: false }
      });
      series.push({
        name: 'Males', type: 'scatter', xAxisIndex: idx, yAxisIndex: idx,
        data: malesByPanel[pi][g], symbolSize: 3.6, itemStyle: { color: maleColor }, silent: true
      });
      series.push({
        name: 'Females', type: 'scatter', xAxisIndex: idx, yAxisIndex: idx,
        data: femalesByPanel[pi][g], symbolSize: 3.6, itemStyle: { color: femaleColor }, silent: true
      });
      const fit = fitsByPanel[pi][g];
      series.push({
        type: 'line', xAxisIndex: idx, yAxisIndex: idx, showSymbol: false, silent: true, z: 5,
        data: [[ageRange[0], fit[0]], [ageRange[1], fit[1]]],
        lineStyle: { color: '#3a3a3a', width: 1.6 }
      });

      const cx = left + p.w / 2 + titleShift[g];
      graphics.push({
        type: 'text', x: cx, y: p.titleY,
        style: { text: groupNames[g], font: 'bold 11px ' + serif, fill: '#111', textAlign: 'center', textVerticalAlign: 'middle' }
      });
      graphics.push({
        type: 'text', x: cx, y: p.r2Y,
        style: { text: 'R\u00b2 linear' + (r2Labels[pi][g].startsWith('<') ? '' : '= ') + r2Labels[pi][g], font: '9px ' + serif, fill: '#444', textAlign: 'center', textVerticalAlign: 'middle' }
      });
    });

    graphics.push({
      type: 'text', x: p.yLab[0], y: p.yLab[1], rotation: Math.PI / 2,
      style: { text: yTitles[pi], font: '9.3px ' + serif, fill: '#222', textAlign: 'center', textVerticalAlign: 'middle' }
    });
    graphics.push({
      type: 'text', x: p.age[0], y: p.age[1],
      style: { text: 'Age (years)', font: 'bold 9px ' + serif, fill: '#222', textAlign: 'center', textVerticalAlign: 'middle' }
    });
    // legend
    const lx = p.leg[0], ly = p.leg[1];
    graphics.push({ type: 'text', x: lx, y: ly, style: { text: 'Gender', font: '9.5px ' + serif, fill: '#222', textVerticalAlign: 'middle' } });
    graphics.push({ type: 'text', x: lx - 5, y: ly + 12, style: { text: '\u2605', font: '7px "DejaVu Sans"', fill: maleColor, textAlign: 'center', textVerticalAlign: 'middle' } });
    graphics.push({ type: 'text', x: lx + 1, y: ly + 12, style: { text: 'Males', font: '9.5px ' + serif, fill: '#222', textVerticalAlign: 'middle' } });
    graphics.push({ type: 'text', x: lx - 5, y: ly + 24, style: { text: '\u2605', font: '7px "DejaVu Sans"', fill: femaleColor, textAlign: 'center', textVerticalAlign: 'middle' } });
    graphics.push({ type: 'text', x: lx + 1, y: ly + 24, style: { text: 'Females', font: '9.5px ' + serif, fill: '#222', textVerticalAlign: 'middle' } });
  });

  const chart = echarts.init(document.getElementById('chart'), null, { renderer: 'svg' });
  chart.setOption({
    animation: false,
    backgroundColor: '#ffffff',
    grid: grids,
    xAxis: xAxes,
    yAxis: yAxes,
    series: series,
    graphic: graphics
  });
</script>
</body>
</html>
